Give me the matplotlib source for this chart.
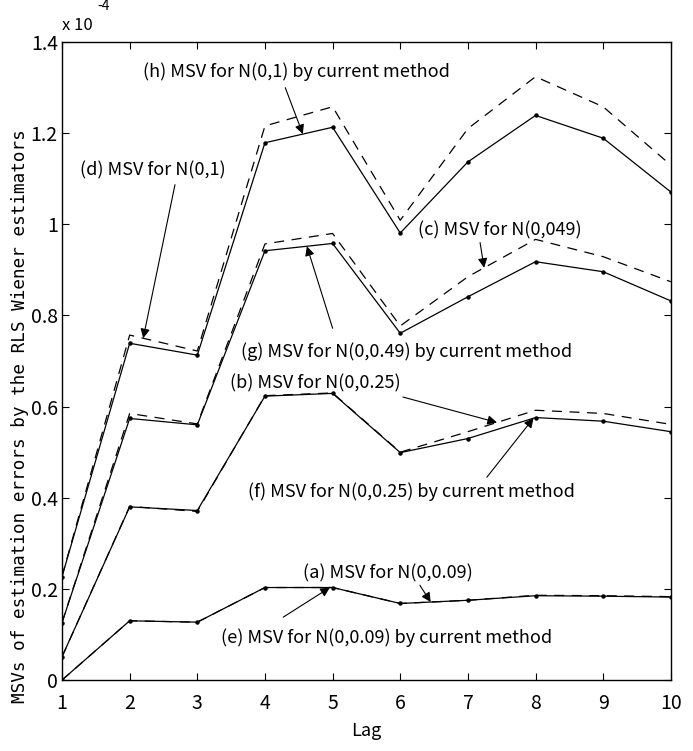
import numpy as np
import matplotlib
matplotlib.use("Agg")
import matplotlib.pyplot as plt

# values in units of 1e-4
lags = [1, 2, 3, 4, 5, 6, 7, 8, 9, 10]
msv_a = [0.0, 0.130, 0.127, 0.203, 0.203, 0.168, 0.175, 0.186, 0.185, 0.183]
msv_b = [0.051, 0.381, 0.370, 0.624, 0.630, 0.500, 0.545, 0.592, 0.585, 0.561]
msv_c = [0.126, 0.585, 0.562, 0.957, 0.980, 0.777, 0.885, 0.967, 0.929, 0.874]
msv_d = [0.228, 0.757, 0.722, 1.216, 1.258, 1.009, 1.210, 1.324, 1.258, 1.130]
msv_e = [0.0, 0.130, 0.127, 0.203, 0.203, 0.168, 0.175, 0.185, 0.184, 0.182]
msv_f = [0.051, 0.380, 0.372, 0.623, 0.629, 0.499, 0.530, 0.576, 0.568, 0.545]
msv_g = [0.126, 0.574, 0.560, 0.942, 0.958, 0.761, 0.841, 0.918, 0.896, 0.832]
msv_h = [0.227, 0.739, 0.713, 1.179, 1.213, 0.981, 1.137, 1.239, 1.189, 1.071]

yticks = [0, 0.2, 0.4, 0.6, 0.8, 1.0, 1.2, 1.4]
ytick_labels = ['0', '0.2', '0.4', '0.6', '0.8', '1', '1.2', '1.4']

plt.rcParams['font.family'] = ['Noto Sans CJK JP', 'DejaVu Sans']

fig = plt.figure(figsize=(6.93, 7.51), dpi=100)
ax = fig.add_axes([0.0895, 0.0945, 0.8785, 0.8495])

# dashed: (a)-(d), solid with dots: (e)-(h) current method
for ys in (msv_a, msv_b, msv_c, msv_d):
    ax.plot(lags, ys, color='k', lw=0.9, ls=(0, (8, 6)))
for ys in (msv_e, msv_f, msv_g, msv_h):
    ax.plot(lags, ys, color='k', lw=0.9, marker='o', ms=2.2)

ax.set_xlim(1, 10)
ax.set_ylim(0, 1.4)
ax.set_xticks(lags)
ax.set_yticks(yticks)
ax.set_yticklabels(ytick_labels)
ax.tick_params(direction='in', top=True, right=True, length=5, width=0.8,
               labelsize=14)
ax.tick_params(axis='x', pad=9)
ax.tick_params(axis='y', pad=3)
for sp in ax.spines.values():
    sp.set_linewidth(1.0)

ax.set_xlabel('Lag', fontsize=13, labelpad=6)
ax.set_ylabel('MSVs of estimation errors by the RLS Wiener estimators',
              family='DejaVu Sans Mono', fontsize=12.7)
ax.yaxis.set_label_coords(-0.054, 0.414)
ax.text(0.0, 1.012, 'x 10', transform=ax.transAxes, fontsize=12, va='bottom')
ax.text(0.058, 1.045, '-4', transform=ax.transAxes, fontsize=10, va='bottom')

# annotations: (label, text pos, arrow tail, arrow head x, series)
notes = [
    ('(h) MSV for N(0,1) by current method', (4.47, 1.334), (4.30, 1.300), 4.56, msv_h),
    ('(d) MSV for N(0,1)', (2.34, 1.119), (2.67, 1.087), 2.20, msv_d),
    ('(c) MSV for N(0,049)', (7.47, 0.987), (7.18, 0.960), 7.24, msv_c),
    ('(g) MSV for N(0,0.49) by current method', (6.10, 0.720), (5.00, 0.772), 4.62, msv_g),
    ('(b) MSV for N(0,0.25)', (4.75, 0.652), (6.04, 0.621), 7.43, msv_b),
    ('(f) MSV for N(0,0.25) by current method', (6.16, 0.413), (7.28, 0.445), 7.97, msv_f),
    ('(a) MSV for N(0,0.09)', (5.82, 0.235), (6.29, 0.208), 6.45, msv_a),
    ('(e) MSV for N(0,0.09) by current method', (5.80, 0.094), (4.27, 0.138), 4.96, msv_e),
]
for label, tpos, tail, hx, ys in notes:
    ax.text(tpos[0], tpos[1], label, ha='center', va='center', fontsize=13)
    hy = np.interp(hx, lags, ys)
    ax.annotate('', xy=(hx, hy), xytext=tail,
                arrowprops=dict(arrowstyle='-|>', color='k', lw=0.8,
                                mutation_scale=14, shrinkA=0, shrinkB=0))

fig.savefig('out.png', dpi=100)
